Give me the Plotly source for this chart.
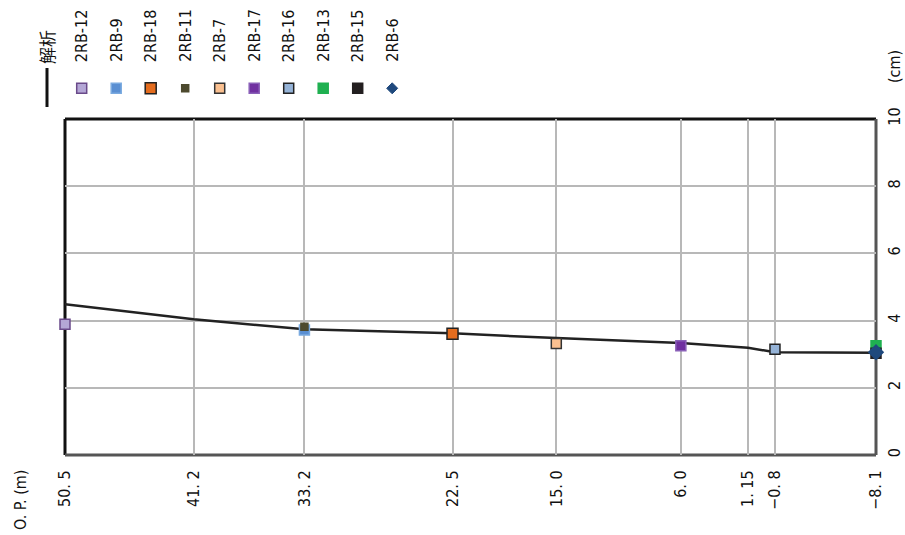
import plotly.graph_objects as go

# ---------------- data ----------------
tick_vals = [50.5, 41.2, 33.2, 22.5, 15.0, 6.0, 1.15, -0.8, -8.1]
tick_text = ["50. 5", "41. 2", "33. 2", "22. 5", "15. 0", "6. 0", "1. 15", "−0. 8", "−8. 1"]

analysis_op = [50.5, 41.2, 33.2, 22.5, 15.0, 6.0, 1.15, -0.8, -8.1]
analysis_val = [4.49, 4.04, 3.74, 3.62, 3.48, 3.33, 3.19, 3.06, 3.04]

point_names = ["2RB-12", "2RB-9", "2RB-18", "2RB-11", "2RB-7",
               "2RB-17", "2RB-16", "2RB-13", "2RB-15", "2RB-6"]
point_op = [50.5, 33.2, 22.5, 33.2, 15.0, 6.0, -0.8, -8.1, -8.1, -8.1]
point_val = [3.89, 3.72, 3.61, 3.82, 3.32, 3.25, 3.15, 3.25, 3.03, 3.06]

# styles
fills = ["#b4a7d6", "#5a8fd2", "#e46c1e", "#4d4a2e", "#fac090",
         "#7030a0", "#95b3d7", "#1fb050", "#231f20", "#1f497d"]
borders = ["#6a4a8a", "#7aaae0", "#222222", "#4d4a2e", "#333333",
           "#8a60b8", "#222222", "#1fb050", "#231f20", "#1f497d"]
sizes = [10, 10, 11, 7, 10, 10, 10, 10, 10, 11]
symbols = ["square"] * 9 + ["diamond"]

W, H = 905, 535
PLOT_X0, PLOT_X1, PLOT_Y0, PLOT_Y1 = 65, 876, 119, 455
L, R = PLOT_X0, W - PLOT_X1
T, B = PLOT_Y0, H - PLOT_Y1
PW, PH = PLOT_X1 - PLOT_X0, PLOT_Y1 - PLOT_Y0

def xp(px):
    return (px - PLOT_X0) / PW

def yp(py):
    return (PLOT_Y1 - py) / PH

FONT = "DejaVu Sans Condensed, Noto Sans CJK JP, sans-serif"
FS = 16

fig = go.Figure()

fig.add_trace(go.Scatter(x=analysis_op, y=analysis_val, mode="lines",
                         line=dict(color="#222222", width=2.5),
                         name="解析", cliponaxis=False, showlegend=False))

for i, n in enumerate(point_names):
    fig.add_trace(go.Scatter(
        x=[point_op[i]], y=[point_val[i]], mode="markers", name=n,
        marker=dict(symbol=symbols[i], size=sizes[i], color=fills[i],
                    line=dict(color=borders[i], width=1.5)),
        cliponaxis=False, showlegend=False))

shapes = []
# plot frame
shapes.append(dict(type="line", xref="paper", yref="paper", x0=0, x1=0, y0=0, y1=1,
                   line=dict(color="#111111", width=3), layer="between"))
shapes.append(dict(type="line", xref="paper", yref="paper", x0=0, x1=1, y0=1, y1=1,
                   line=dict(color="#111111", width=3), layer="between"))
shapes.append(dict(type="line", xref="paper", yref="paper", x0=0, x1=1, y0=0, y1=0,
                   line=dict(color="#555555", width=3), layer="between"))
shapes.append(dict(type="line", xref="paper", yref="paper", x0=1, x1=1, y0=0, y1=1,
                   line=dict(color="#555555", width=3), layer="between"))

annotations = []
# custom rotated legend
shapes.append(dict(type="line", xref="paper", yref="paper",
                   x0=xp(47), x1=xp(47), y0=yp(68), y1=yp(107),
                   line=dict(color="#111111", width=3)))
annotations.append(dict(text="解析", xref="paper", yref="paper", x=xp(47), y=yp(66),
                        xanchor="center", yanchor="bottom", textangle=-90, showarrow=False,
                        font=dict(family="Noto Sans CJK JP", size=17, color="#111111")))
for i, n in enumerate(point_names):
    cx = 81.7 + 34.5 * i
    cy = 88.3
    annotations.append(dict(text=n, xref="paper", yref="paper", x=xp(cx), y=yp(64),
                            xanchor="center", yanchor="bottom", textangle=-90, showarrow=False,
                            font=dict(family=FONT, size=FS, color="#111111")))
    h = sizes[i] / 2
    if symbols[i] == "diamond":
        path = (f"M {xp(cx)},{yp(cy - h)} L {xp(cx + h)},{yp(cy)} "
                f"L {xp(cx)},{yp(cy + h)} L {xp(cx - h)},{yp(cy)} Z")
        shapes.append(dict(type="path", xref="paper", yref="paper", path=path,
                           fillcolor=fills[i], line=dict(color=borders[i], width=1)))
    else:
        shapes.append(dict(type="rect", xref="paper", yref="paper",
                           x0=xp(cx - h), x1=xp(cx + h), y0=yp(cy + h), y1=yp(cy - h),
                           fillcolor=fills[i], line=dict(color=borders[i], width=1.5)))

annotations.append(dict(text="(cm)", xref="paper", yref="paper", x=xp(894), y=yp(67),
                        xanchor="center", yanchor="middle", textangle=-90, showarrow=False,
                        font=dict(family=FONT, size=FS, color="#111111")))
annotations.append(dict(text="O. P. (m)", xref="paper", yref="paper", x=xp(20), y=yp(500),
                        xanchor="center", yanchor="middle", textangle=-90, showarrow=False,
                        font=dict(family=FONT, size=FS, color="#111111")))

fig.update_layout(
    width=W, height=H,
    margin=dict(l=L, r=R, t=T, b=B, autoexpand=False),
    paper_bgcolor="white", plot_bgcolor="white",
    showlegend=False,
    shapes=shapes, annotations=annotations,
    font=dict(family=FONT, size=FS, color="#111111"),
    xaxis=dict(range=[50.5, -8.1], tickvals=tick_vals, ticktext=tick_text,
               tickangle=-90, showgrid=True, gridcolor="#b8b8b8", gridwidth=1.5,
               zeroline=False, showline=False, ticks="outside", ticklen=8,
               tickcolor="rgba(0,0,0,0)", tickfont=dict(family=FONT, size=FS),
               automargin=False),
    yaxis=dict(range=[0, 10], tickvals=[0, 2, 4, 6, 8, 10], side="right",
               tickangle=-90, showgrid=True, gridcolor="#b8b8b8", gridwidth=1.5,
               zeroline=False, showline=False, ticks="outside", ticklen=4,
               tickcolor="rgba(0,0,0,0)", tickfont=dict(family=FONT, size=FS),
               automargin=False),
)

fig.write_html("out.html", config={"displayModeBar": False},
               post_script="document.body.style.margin='0';document.body.style.overflow='hidden';")
